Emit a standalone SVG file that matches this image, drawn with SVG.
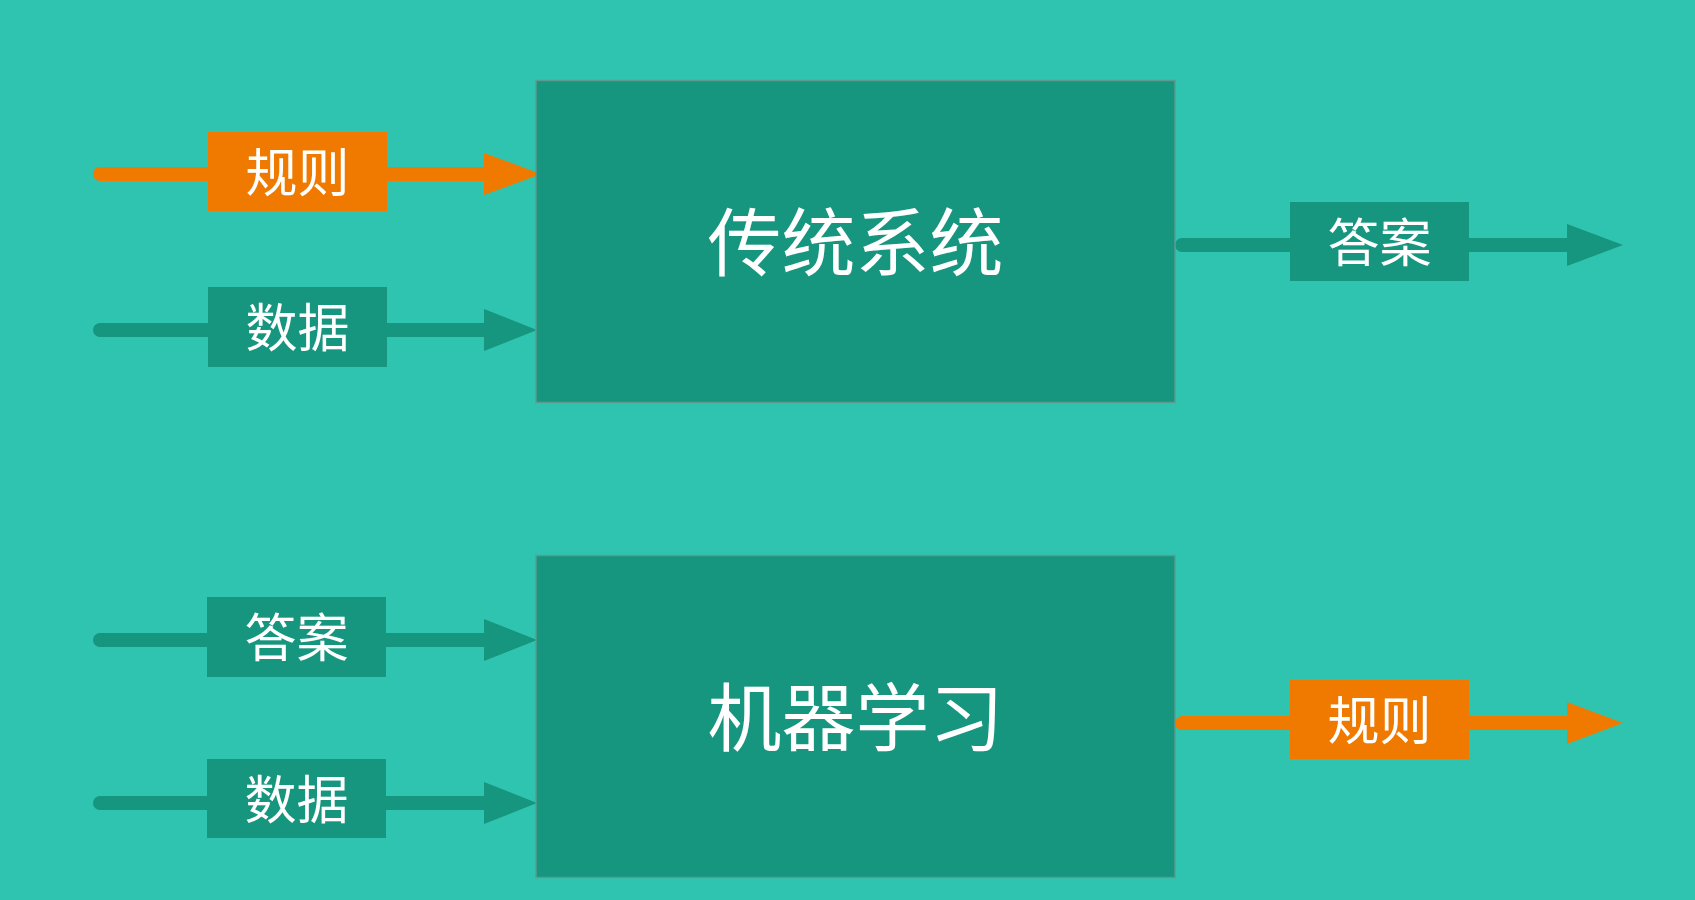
<svg xmlns="http://www.w3.org/2000/svg" width="1695" height="900" viewBox="0 0 1695 900">
  <style>
    .bg { fill: #2ec4b0; }
    .box { fill: #16957f; stroke: #5f9a91; stroke-width: 1.5; }
    .title { font-family: "Noto Sans CJK SC", "Noto Sans", sans-serif; font-size: 74px; fill: #ffffff; text-anchor: middle; dominant-baseline: central; }
    .lbl { font-family: "Noto Sans CJK SC", "Noto Sans", sans-serif; font-size: 52px; fill: #ffffff; text-anchor: middle; dominant-baseline: central; }
    .ln-o { stroke: #f07a00; stroke-width: 14; stroke-linecap: round; fill: none; }
    .ln-t { stroke: #16957f; stroke-width: 14; stroke-linecap: round; fill: none; }
    .hd-o { fill: #f07a00; }
    .hd-t { fill: #16957f; }
    .tag-o { fill: #f07a00; }
    .tag-t { fill: #16957f; }
  </style>
  <rect class="bg" x="0" y="0" width="1695" height="900"/>

  <g id="connectors">
    <g id="c-rules-in">
      <line class="ln-o" x1="100" y1="174" x2="490" y2="174"/>
      <polygon class="hd-o" points="484,153 541,174 484,195"/>
      <rect class="tag-o" x="208" y="132" width="179" height="79"/>
      <text class="lbl" x="297.5" y="169">规则</text>
    </g>
    <g id="c-data-in-1">
      <line class="ln-t" x1="100" y1="330" x2="490" y2="330"/>
      <polygon class="hd-t" points="484,309 537,330 484,351"/>
      <rect class="tag-t" x="208" y="287" width="179" height="80"/>
      <text class="lbl" x="297.5" y="324.5">数据</text>
    </g>
    <g id="c-answer-out">
      <line class="ln-t" x1="1182" y1="245" x2="1570" y2="245"/>
      <polygon class="hd-t" points="1567,224 1623,245 1567,266"/>
      <rect class="tag-t" x="1290" y="202" width="179" height="79"/>
      <text class="lbl" x="1379.5" y="239">答案</text>
    </g>
    <g id="c-answer-in">
      <line class="ln-t" x1="100" y1="640" x2="490" y2="640"/>
      <polygon class="hd-t" points="484,619 537,640 484,661"/>
      <rect class="tag-t" x="207" y="597" width="179" height="80"/>
      <text class="lbl" x="296.5" y="634.5">答案</text>
    </g>
    <g id="c-data-in-2">
      <line class="ln-t" x1="100" y1="803" x2="490" y2="803"/>
      <polygon class="hd-t" points="484,782 537,803 484,824"/>
      <rect class="tag-t" x="207" y="759" width="179" height="79"/>
      <text class="lbl" x="296.5" y="796">数据</text>
    </g>
    <g id="c-rules-out">
      <line class="ln-o" x1="1182" y1="723" x2="1570" y2="723"/>
      <polygon class="hd-o" points="1567,702 1623,723 1567,744"/>
      <rect class="tag-o" x="1290" y="680" width="179" height="79"/>
      <text class="lbl" x="1379.5" y="717">规则</text>
    </g>
  </g>

  <g id="traditional-system">
    <rect class="box" x="536" y="80.5" width="639" height="322"/>
    <text class="title" x="855.5" y="237">传统系统</text>
  </g>

  <g id="machine-learning">
    <rect class="box" x="536" y="555.5" width="639" height="322"/>
    <text class="title" x="855.5" y="712">机器学习</text>
  </g>
</svg>
